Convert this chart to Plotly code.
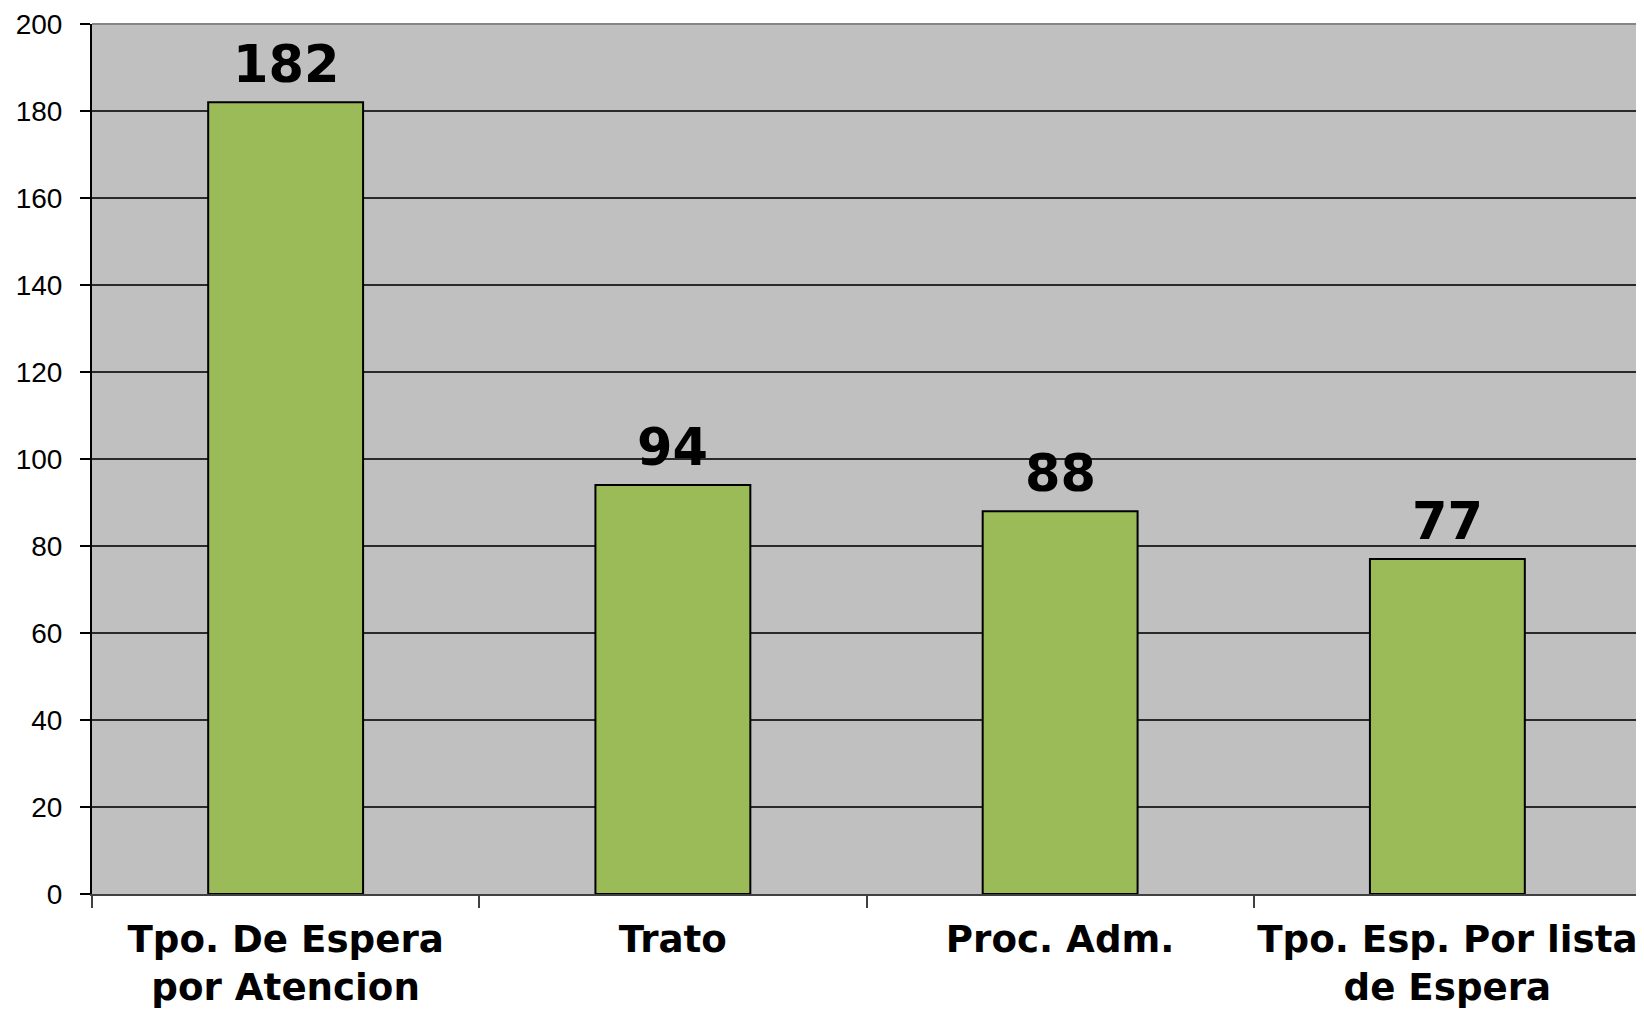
import plotly.graph_objects as go

categories = ["Tpo. De Espera<br>por Atencion", "Trato", "Proc. Adm.", "Tpo. Esp. Por lista<br>de Espera"]
values = [182, 94, 88, 77]
y_ticks = [0, 20, 40, 60, 80, 100, 120, 140, 160, 180, 200]

fig = go.Figure()
fig.add_trace(go.Bar(
    x=categories, y=values,
    marker=dict(color="#9BBB59", line=dict(color="black", width=2)),
    width=0.4,
))

for c, v in zip(categories, values):
    fig.add_annotation(x=c, y=v, text=f"<b>{v}</b>", showarrow=False,
                       yanchor="bottom", yshift=6,
                       font=dict(family="DejaVu Sans", size=51, color="black"))

fig.update_layout(
    width=1636, height=1002,
    margin=dict(l=84, r=3, t=16, b=116),
    paper_bgcolor="white", plot_bgcolor="#C0C0C0",
    showlegend=False,
    xaxis=dict(
        showline=True, linecolor="#404040", linewidth=2,
        ticks="outside", tickson="boundaries", ticklen=12, tickcolor="#404040", tickwidth=1.5,
        tickangle=0, automargin=False, ticklabelstandoff=11,
        tickfont=dict(family="DejaVu Sans", size=37.2, color="black", weight="bold"),
        showgrid=False,
    ),
    yaxis=dict(
        range=[0, 200], tickvals=y_ticks, automargin=False,
        showline=True, linecolor="black", linewidth=2,
        ticks="outside", ticklen=10, tickcolor="black", tickwidth=1.5,
        ticklabelstandoff=12,
        tickfont=dict(family="Liberation Sans, Arial", size=28, color="black"),
        showgrid=True, gridcolor="#2a2a2a", gridwidth=1.6,
        zeroline=False,
    ),
    shapes=[
        dict(type="line", xref="paper", yref="paper", x0=0, x1=1, y0=1, y1=1,
             line=dict(color="#858585", width=2)),
        dict(type="line", xref="paper", yref="paper", x0=1, x1=1, y0=0, y1=1,
             line=dict(color="#858585", width=2)),
    ],
)

fig.write_html("out.html")
